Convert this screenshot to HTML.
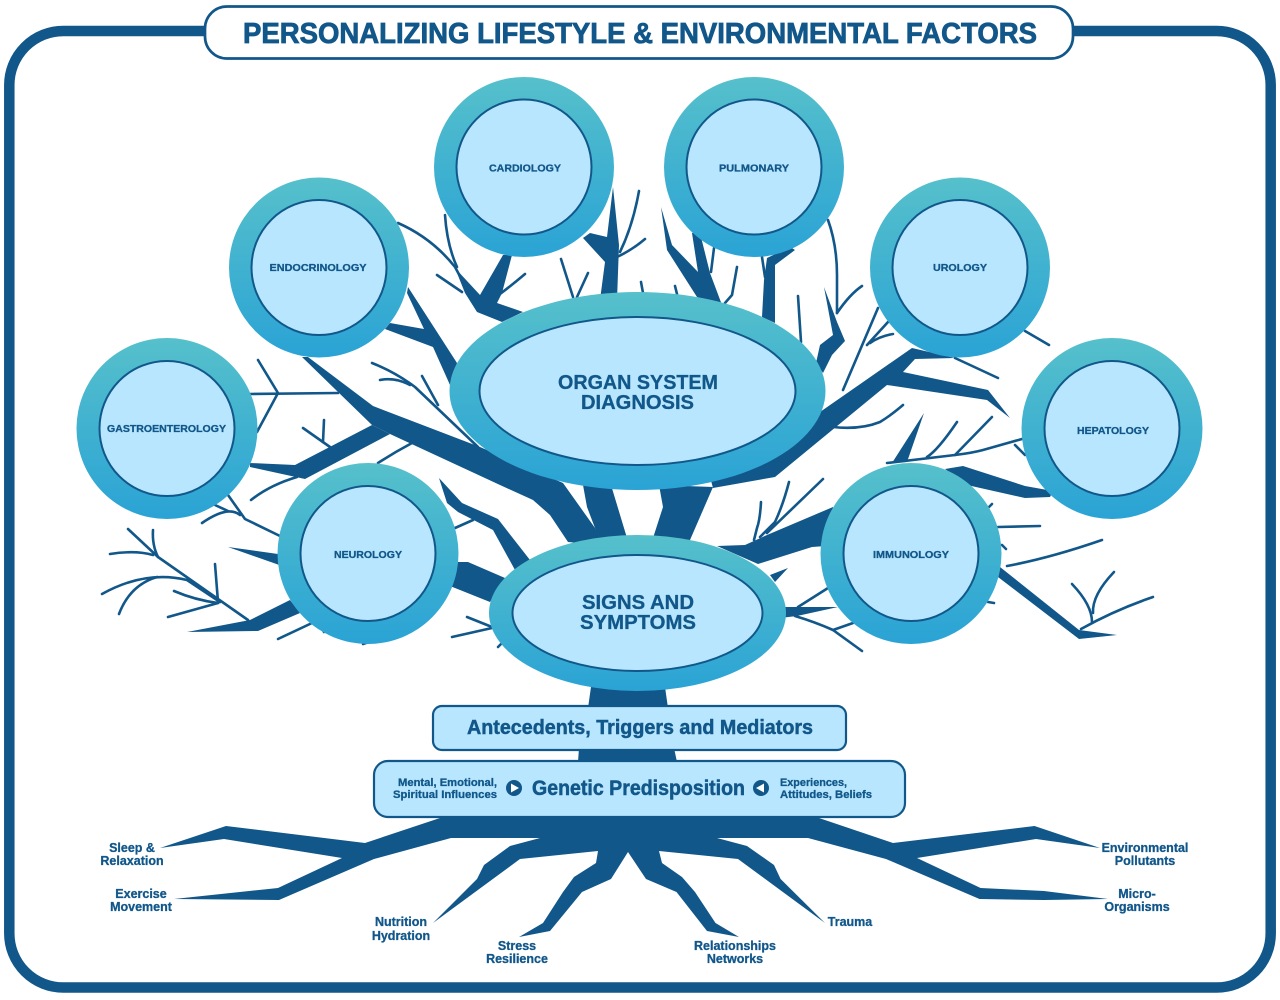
<!DOCTYPE html>
<html lang="en"><head><meta charset="utf-8"><title>Personalizing Lifestyle &amp; Environmental Factors</title>
<style>html,body{margin:0;padding:0;background:#fff}svg{display:block}text{font-family:"Liberation Sans",sans-serif;font-weight:700;fill:#11578a;stroke:#11578a;stroke-width:.3}</style></head>
<body>
<svg width="1280" height="1000" viewBox="0 0 1280 1000" xmlns="http://www.w3.org/2000/svg">
<defs><linearGradient id="g" x1="0" y1="0" x2="0" y2="1"><stop offset="0" stop-color="#56c0cb"/><stop offset="1" stop-color="#2aa3d5"/></linearGradient></defs>
<rect x="9.3" y="31" width="1261.4" height="956.500" rx="54" fill="#fff" stroke="#11578a" stroke-width="10.500"/>

<!-- twigs -->
<g fill="none" stroke="#11578a" stroke-width="2.600" stroke-linecap="round" stroke-linejoin="round">
<path d="M445 215Q447 245 457 267"/><path d="M398 223Q432 238 455 267L462 280"/><path d="M437 275L462 292"/><path d="M525 274Q512 285 500 294"/>
<path d="M639 191Q633 225 620 252"/><path d="M645 239Q632 250 617 257"/><path d="M561 259L573 297"/><path d="M588 273L577 297"/><path d="M641 282L643 293"/><path d="M675 286L677 294"/>
<path d="M714 248L711 272"/><path d="M737 267L732 295L725 303"/>
<path d="M762 257L765 277"/><path d="M828 220Q837 245 837 275L837 313"/><path d="M798 296L801 342"/><path d="M862 286Q850 294 837 313"/>
<path d="M843 390L878 308"/><path d="M867 345L888 322"/><path d="M870 343Q880 336 893 334"/><path d="M833 427Q860 430 880 422Q890 416 903 405"/><path d="M1025 331L1049 345"/><path d="M955 358L998 378"/>
<path d="M887 463L955 455Q972 453 983 450L1022 439"/><path d="M927 457Q938 450 957 422"/><path d="M955 455L992 417"/><path d="M1015 445L1025 455"/>
<path d="M823 479L767 533"/><path d="M789 482Q783 505 775 522L760 537"/><path d="M761 502Q760 520 757 528L754 540"/>
<path d="M828 588L798 607"/><path d="M795 616Q815 622 833 630L862 651"/><path d="M833 630L853 623"/>
<path d="M1007 566Q1050 558 1102 540"/><path d="M1081 629Q1115 610 1153 597"/><path d="M1092 622Q1092 605 1072 584"/><path d="M1093 613Q1092 595 1114 572"/>
<path d="M998 527L1040 526"/><path d="M989 507L992 504"/><path d="M1002 545L1006 549"/><path d="M988 602L994 603"/>
<path d="M455 528L473 520"/><path d="M248 620L158 557L128 529"/><path d="M153 555Q135 550 110 554"/><path d="M158 557Q152 545 153 530"/>
<path d="M220 602L187 580Q145 570 102 594"/><path d="M157 577Q130 585 119 614"/><path d="M218 602L215 564"/><path d="M218 603Q195 600 174 591"/><path d="M218 603L168 617"/>
<path d="M280 536L245 519L228 495"/><path d="M240 515Q228 505 202 523"/><path d="M215 505L228 511"/><path d="M297 477Q270 485 251 500"/><path d="M278 639L312 623"/><path d="M323 630L324 632"/><path d="M363 644L366 643"/>
<path d="M452 637L492 628"/><path d="M467 617L492 627"/><path d="M498 647L502 643"/>
<path d="M250 394L338 393"/><path d="M258 360L278 393L257 432"/><path d="M303 428L330 447"/><path d="M324 420L323 442"/>
<path d="M372 363Q395 372 415 387L478 447"/><path d="M380 380Q395 377 410 385"/><path d="M422 376L438 405"/><path d="M378 463Q395 452 412 443"/>
</g>

<!-- branches -->
<g fill="#11578a">
<polygon points="302,357 308,357 373,406 480,447 563,483 595,528 600,545 568,542 550,515 533,500 500,485 390,434 372,425"/>
<polygon points="372,425 295,465 250,463 250,467 305,479 390,434"/>
<polygon points="408,287 457,363 450,385 433,347 385,329 390,323 424,329 407,293"/>
<polygon points="503,255 480,295 455,268 465,293 477,312 502,322 523,312 497,303 502,293 512,255"/>
<polygon points="613,187 619,245 617,300 600,300 605,262 583,238 590,233 607,237"/>
<polygon points="661,207 672,245 698,272 692,233 700,233 710,273 722,305 697,297 667,250"/>
<polygon points="795,250 775,265 775,323 762,317 764,280 767,258 790,247"/>
<polygon points="824,287 837,322 845,341 832,355 823,373 816,363 820,345 833,335"/>
<polygon points="775,477 887,385 987,400 1010,418 988,390 903,372 915,359 955,358 912,348 820,412 700,440 713,488"/>
<polygon points="924,413 907,462 892,463"/>
<polygon points="945,469 963,466 1025,486 1053,491 1050,497 1025,498 967,485"/>
<polygon points="717,546 745,545 767,535 833,507 840,545 812,547 758,564"/>
<polygon points="788,568 775,582 770,575"/>
<polygon points="780,607 838,607 797,616 780,618"/>
<polygon points="1000,567 1079,630 1117,635 1079,639 998,577"/>
<polygon points="439,478 462,503 498,519 530,560 515,570 493,530 458,512 447,503"/>
<polygon points="450,562 468,562 505,578 490,602 450,586"/>
<polygon points="228,547 285,555 285,567"/>
<polygon points="187,632 250,620 290,600 300,613 258,631"/>
<polygon points="583,485 611,485 627,538 597,538 595,528 587,507"/>
<polygon points="659,485 663,507 653,538 690,540 713,487"/>
<polygon points="592,680 664,680 668,708 588,708"/>
<polygon points="579,748 674,748 677,762 578,762"/>
<polygon points="443,817 365,843 226,826 160,848 224,839 342,858 278,888 174,899 279,900 374,859 451,838 540,838 510,846 484,865 477,879 433,923 520,859 598,851 596,863 574,877 563,892 543,923 519,937 550,931 582,892 611,879 628,852 646,879 676.5,892 707,931 739,937 715.5,923 695,892 682,877 662,863 659,851 738,859 825,923 780.6,879 774,865 747,846 717,838 808,838 886,859 979.5,899 1044,900 1108,899 1044,891 980.6,888 917,858 1036,839 1100,848 1034.5,826 893,843 816,817"/>
</g>

<!-- nodes -->
<g stroke="none">
<g fill="url(#g)"><circle cx="524" cy="167" r="90"/><circle cx="754" cy="167" r="90"/><circle cx="319" cy="267.5" r="90"/><circle cx="960" cy="267.5" r="90"/><circle cx="167" cy="428.5" r="90.5"/><circle cx="1112" cy="428.5" r="90.5"/><circle cx="368" cy="553.5" r="90.5"/><circle cx="911" cy="553.5" r="90.5"/>
<ellipse cx="637.5" cy="391" rx="188" ry="99"/><ellipse cx="637.5" cy="613" rx="148.5" ry="78"/></g>
</g>
<g fill="#b8e6fe" stroke="#11578a" stroke-width="2">
<circle cx="524" cy="167" r="67.5"/><circle cx="754" cy="167" r="67.5"/><circle cx="319" cy="267.5" r="67.5"/><circle cx="960" cy="267.5" r="67.5"/><circle cx="167" cy="428.5" r="67.5"/><circle cx="1112" cy="428.5" r="67.5"/><circle cx="368" cy="553.5" r="67.5"/><circle cx="911" cy="553.5" r="67.5"/>
<ellipse cx="637.5" cy="391" rx="158" ry="74"/><ellipse cx="637.5" cy="613" rx="125" ry="58"/>
</g>
<g fill="#b8e6fe" stroke="#11578a" stroke-width="2.200"><rect x="433" y="706" width="413" height="44" rx="9"/><rect x="374" y="761" width="531" height="56" rx="14"/></g>
<rect x="205" y="6.500" width="868" height="52" rx="22" fill="#fff" stroke="#11578a" stroke-width="2.700"/>

<!-- text -->
<text x="243" y="43" font-size="29" textLength="794" lengthAdjust="spacingAndGlyphs" style="stroke-width:.8">PERSONALIZING LIFESTYLE &amp; ENVIRONMENTAL FACTORS</text>
<g font-size="10.500">
<text x="489" y="171.500" textLength="72" lengthAdjust="spacingAndGlyphs">CARDIOLOGY</text>
<text x="719" y="171.500" textLength="70" lengthAdjust="spacingAndGlyphs">PULMONARY</text>
<text x="269.500" y="271" textLength="97" lengthAdjust="spacingAndGlyphs">ENDOCRINOLOGY</text>
<text x="933" y="271" textLength="54" lengthAdjust="spacingAndGlyphs">UROLOGY</text>
<text x="107" y="432" textLength="119" lengthAdjust="spacingAndGlyphs">GASTROENTEROLOGY</text>
<text x="1077" y="434" textLength="72" lengthAdjust="spacingAndGlyphs">HEPATOLOGY</text>
<text x="334" y="558" textLength="68" lengthAdjust="spacingAndGlyphs">NEUROLOGY</text>
<text x="873" y="558" textLength="76" lengthAdjust="spacingAndGlyphs">IMMUNOLOGY</text>
</g>
<g font-size="20" style="stroke-width:.5">
<text x="558" y="389" textLength="160" lengthAdjust="spacingAndGlyphs">ORGAN SYSTEM</text>
<text x="581" y="409" textLength="113" lengthAdjust="spacingAndGlyphs">DIAGNOSIS</text>
<text x="582" y="609" textLength="112" lengthAdjust="spacingAndGlyphs">SIGNS AND</text>
<text x="580" y="629" textLength="116" lengthAdjust="spacingAndGlyphs">SYMPTOMS</text>
</g>
<text x="467" y="734" font-size="20.500" textLength="346" lengthAdjust="spacingAndGlyphs" style="stroke-width:.5">Antecedents, Triggers and Mediators</text>
<text x="532" y="795" font-size="21" textLength="213" lengthAdjust="spacingAndGlyphs" style="stroke-width:.5">Genetic Predisposition</text>
<g font-size="11">
<text x="398" y="786" textLength="99" lengthAdjust="spacingAndGlyphs">Mental, Emotional,</text>
<text x="393" y="798" textLength="104" lengthAdjust="spacingAndGlyphs">Spiritual Influences</text>
<text x="780" y="786" textLength="67" lengthAdjust="spacingAndGlyphs">Experiences,</text>
<text x="780" y="798" textLength="92" lengthAdjust="spacingAndGlyphs">Attitudes, Beliefs</text>
</g>
<circle cx="514" cy="788" r="8" fill="#11578a"/><polygon points="511,783.500 519,788 511,792.500" fill="#fff"/>
<circle cx="761" cy="788" r="8" fill="#11578a"/><polygon points="764,783.500 756,788 764,792.500" fill="#fff"/>
<g font-size="12.500" text-anchor="middle">
<text x="132" y="852">Sleep &amp;</text><text x="132" y="865">Relaxation</text>
<text x="141" y="898">Exercise</text><text x="141" y="911">Movement</text>
<text x="401" y="926">Nutrition</text><text x="401" y="940">Hydration</text>
<text x="517" y="950">Stress</text><text x="517" y="963">Resilience</text>
<text x="735" y="950">Relationships</text><text x="735" y="963">Networks</text>
<text x="850" y="926">Trauma</text>
<text x="1145" y="852">Environmental</text><text x="1145" y="865">Pollutants</text>
<text x="1137" y="898">Micro-</text><text x="1137" y="911">Organisms</text>
</g>
</svg>
</body></html>
